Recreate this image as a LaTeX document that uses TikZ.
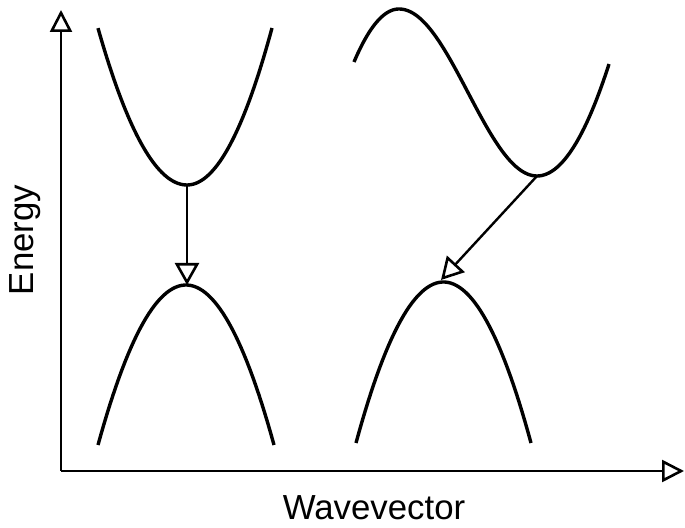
\documentclass[tikz,border=0pt]{standalone}
\usepackage{fontspec}
\setmainfont{Liberation Sans}
\usetikzlibrary{arrows.meta}
\tikzset{
  band/.style={line width=1.7pt},
  trans/.style={line width=1.2pt, -{Triangle[open, length=11pt, width=12pt, line width=1.3pt]}},
  axis/.style={line width=1.2pt, -{Triangle[open, length=11pt, width=11pt, line width=1.3pt]}},
  lbl/.style={font=\fontsize{17.4pt}{20pt}\selectfont}
}
\begin{document}
\begin{tikzpicture}[x=0.5pt, y=-0.5pt]
  \useasboundingbox (0,0) rectangle (685,528);
  % axes
  \coordinate (origin) at (61,471);
  \coordinate (etop) at (61,10);
  \coordinate (kend) at (684,471);
  \draw[axis] (origin) -- (etop);
  \draw[axis] (origin) -- (kend);
  \node[lbl, rotate=90] (energy) at (25,240) {Energy};
  \node[lbl] (wavevec) at (374,508) {Wavevector};
  % direct gap
  \coordinate (cbmin1) at (187,185);
  \coordinate (vbmax1) at (187,285);
  \draw[band] plot[domain=98:187, samples=40] (\x,{185-157/7921*(\x-187)^2})
    -- plot[domain=187:272, samples=40] (\x,{185-157/7225*(\x-187)^2});
  \draw[band] plot[domain=98:274, samples=60] (\x,{285+160/7744*(\x-186)^2});
  \draw[trans] (cbmin1) -- (vbmax1);
  % indirect gap
  \coordinate (cbmin2) at (537,176);
  \coordinate (vbmax2) at (441,280);
  \draw[band] plot[domain=354:399, samples=25] (\x,{9+53/2025*(\x-399)^2})
    -- plot[domain=399:537, samples=60] (\x,{9+83.5*(1-cos(1.30435*(\x-399)))})
    -- plot[domain=537:609, samples=30] (\x,{176-112/5184*(\x-537)^2});
  \draw[band] plot[domain=356:531, samples=60] (\x,{282+161/7656*(\x-443.5)^2});
  \draw[trans] (cbmin2) -- (vbmax2);
\end{tikzpicture}
\end{document}
